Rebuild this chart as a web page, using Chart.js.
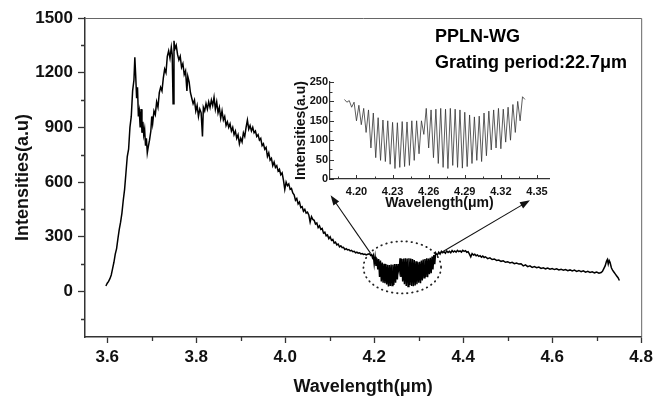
<!DOCTYPE html>
<html>
<head>
<meta charset="utf-8">
<script src="https://cdn.jsdelivr.net/npm/chart.js@4"></script>
<style>
  body { margin: 0; background: #fff; }
  #wrap { position: relative; width: 657px; height: 398px; }
  #main { position: absolute; left: 0; top: 0; }
  #inset { position: absolute; left: 280px; top: 70px; }
</style>
</head>
<body>
<div id="wrap">
  <canvas id="main" width="657" height="398"></canvas>
  <canvas id="inset" width="280" height="150"></canvas>
</div>
<script>
// spectrum, left of the fringe region
const leftWl = [
  3.597, 3.600, 3.603, 3.606, 3.609, 3.612, 3.615, 3.618, 3.621, 3.624,
  3.627, 3.630, 3.633, 3.636, 3.639, 3.642, 3.645, 3.648, 3.651, 3.654,
  3.657, 3.660, 3.662, 3.664, 3.666, 3.668, 3.670, 3.672, 3.674, 3.676,
  3.678, 3.680, 3.682, 3.684, 3.686, 3.688, 3.690, 3.692, 3.695, 3.698,
  3.700, 3.702, 3.705, 3.708, 3.711, 3.714, 3.717, 3.720, 3.723, 3.726,
  3.729, 3.732, 3.735, 3.738, 3.741, 3.744, 3.746, 3.748, 3.750, 3.752,
  3.755, 3.758, 3.761, 3.764, 3.767, 3.770, 3.773, 3.776, 3.779, 3.781,
  3.784, 3.787, 3.790, 3.793, 3.796, 3.799, 3.802, 3.805, 3.808, 3.811,
  3.814, 3.816, 3.819, 3.822, 3.825, 3.828, 3.831, 3.834, 3.837, 3.840,
  3.843, 3.846, 3.849, 3.852, 3.855, 3.858, 3.861, 3.864, 3.867, 3.870,
  3.873, 3.876, 3.879, 3.882, 3.885, 3.888, 3.891, 3.894, 3.897, 3.900,
  3.903, 3.906, 3.909, 3.912, 3.915, 3.918, 3.921, 3.924, 3.927, 3.930,
  3.933, 3.936, 3.939, 3.942, 3.945, 3.948, 3.951, 3.954, 3.957, 3.960,
  3.963, 3.966, 3.969, 3.972, 3.975, 3.978, 3.981, 3.984, 3.987, 3.990,
  3.993, 3.996, 3.999, 4.002, 4.005, 4.008, 4.011, 4.014, 4.017, 4.020,
  4.023, 4.026, 4.029, 4.032, 4.035, 4.038, 4.041, 4.044, 4.047, 4.050,
  4.053, 4.056, 4.059, 4.062, 4.065, 4.068, 4.071, 4.074, 4.077, 4.080,
  4.083, 4.086, 4.089, 4.092, 4.095, 4.098, 4.101, 4.104, 4.107, 4.110,
  4.113, 4.116, 4.119, 4.122, 4.125, 4.128, 4.131, 4.134, 4.137, 4.140,
  4.143, 4.146, 4.149, 4.152, 4.155, 4.158, 4.161, 4.164, 4.167, 4.170,
  4.173, 4.176, 4.179, 4.182, 4.185
];
const leftInt = [
  30, 45, 55, 70, 90, 125, 160, 205, 235, 290,
  340, 380, 430, 500, 560, 650, 740, 780, 900, 960,
  1100, 1160, 1285, 1180, 1060, 1120, 960, 990, 900, 1000,
  870, 930, 860, 890, 800, 840, 760, 790, 830, 880,
  960, 920, 990, 970, 1040, 1010, 1090, 1120, 1100, 1170,
  1220, 1200, 1290, 1320, 1280, 1340, 1300, 1030, 1375, 1330,
  1350, 1300, 1270, 1290, 1230, 1250, 1190, 1210, 1100, 1180,
  1150, 1090, 1060, 1030, 1050, 990, 1020, 960, 1000, 980,
  850, 1010, 990, 1030, 1000, 1040, 1010, 1050, 1020, 1065,
  1000, 1040, 980, 1010, 950, 990, 940, 960, 910, 930,
  900, 920, 880, 900, 860, 880, 840, 860, 810, 840,
  820, 870, 850, 900, 940, 890, 910, 880, 900, 870,
  880, 850, 860, 830, 840, 800, 810, 780, 790, 740,
  760, 720, 730, 690, 710, 680, 690, 660, 670, 640,
  650, 610, 560, 600, 580, 590, 560, 565, 540, 530,
  500, 510, 480, 490, 460, 465, 440, 450, 430, 435,
  420, 380, 410, 395, 390, 370, 375, 350, 360, 340,
  345, 320, 325, 305, 310, 290, 300, 280, 285, 265,
  270, 255, 260, 245, 250, 240, 242, 230, 235, 228,
  230, 222, 225, 218, 220, 212, 216, 210, 212, 206,
  208, 203, 205, 200, 204
];

// fringe region (shown in the inset)
const fringeWl = [
  4.190, 4.192, 4.194, 4.196, 4.198, 4.200, 4.202, 4.204, 4.206, 4.208,
  4.210, 4.212, 4.214, 4.216, 4.218, 4.220, 4.222, 4.224, 4.226, 4.228,
  4.230, 4.232, 4.234, 4.236, 4.238, 4.240, 4.242, 4.244, 4.246, 4.248,
  4.250, 4.252, 4.254, 4.256, 4.258, 4.260, 4.262, 4.264, 4.266, 4.268,
  4.270, 4.272, 4.274, 4.276, 4.278, 4.280, 4.282, 4.284, 4.286, 4.288,
  4.290, 4.292, 4.294, 4.296, 4.298, 4.300, 4.302, 4.304, 4.306, 4.308,
  4.310, 4.312, 4.314, 4.316, 4.318, 4.320, 4.322, 4.324, 4.326, 4.328,
  4.330, 4.332, 4.334, 4.336, 4.338, 4.340
];
const fringeInt = [
  205, 198, 202, 185, 198, 150, 190, 140, 182, 120,
  178, 80, 170, 55, 158, 48, 152, 45, 150, 38,
  146, 27, 145, 30, 148, 32, 147, 35, 150, 48,
  150, 65, 150, 115, 182, 80, 178, 55, 180, 40,
  182, 30, 180, 27, 182, 35, 180, 30, 178, 28,
  172, 32, 165, 40, 160, 48, 162, 45, 170, 60,
  175, 75, 178, 80, 182, 78, 180, 95, 185, 100,
  192, 120, 200, 150, 212, 205
];

// spectrum, right of the fringe region
const rightWl = [
  4.342, 4.345, 4.348, 4.351, 4.354, 4.357, 4.360, 4.363, 4.366, 4.369,
  4.372, 4.375, 4.378, 4.381, 4.384, 4.387, 4.390, 4.393, 4.396, 4.399,
  4.402, 4.405, 4.408, 4.411, 4.414, 4.417, 4.420, 4.423, 4.426, 4.429,
  4.432, 4.435, 4.438, 4.441, 4.444, 4.447, 4.450, 4.455, 4.460, 4.465,
  4.470, 4.475, 4.480, 4.485, 4.490, 4.495, 4.500, 4.505, 4.510, 4.515,
  4.520, 4.525, 4.530, 4.535, 4.540, 4.545, 4.550, 4.555, 4.560, 4.565,
  4.570, 4.575, 4.580, 4.585, 4.590, 4.595, 4.600, 4.605, 4.610, 4.615,
  4.620, 4.625, 4.630, 4.635, 4.640, 4.645, 4.650, 4.655, 4.660, 4.665,
  4.670, 4.675, 4.680, 4.685, 4.690, 4.695, 4.700, 4.705, 4.710, 4.713,
  4.716, 4.719, 4.722, 4.724, 4.726, 4.728, 4.730, 4.733, 4.736, 4.739,
  4.742, 4.745, 4.748, 4.751
];
const rightInt = [
  200, 215, 205, 220, 212, 218, 210, 222, 214, 220,
  212, 224, 216, 222, 215, 225, 218, 222, 216, 226,
  220, 224, 215, 218, 205, 190, 208, 200, 204, 196,
  200, 192, 196, 188, 194, 186, 190, 180, 184, 175,
  178, 170, 172, 165, 168, 160, 163, 156, 160, 152,
  156, 150, 152, 140, 146, 136, 140, 132, 136, 130,
  134, 126, 130, 124, 128, 122, 126, 120, 124, 118,
  122, 116, 120, 114, 118, 112, 117, 110, 115, 108,
  113, 106, 110, 104, 108, 102, 106, 100, 104, 110,
  125, 140, 165, 175, 150, 170, 160, 130, 115, 105,
  95, 85, 75, 60
];

const xTicks = [3.6, 3.8, 4.0, 4.2, 4.4, 4.6, 4.8];
const xMinor = [3.7, 3.9, 4.1, 4.3, 4.5, 4.7];
const yTicks = [0, 300, 600, 900, 1200, 1500];
const yMinor = [-150, 150, 450, 750, 1050, 1350];

const insetXTicks = [4.20, 4.23, 4.26, 4.29, 4.32, 4.35];
const insetXMinor = [4.185, 4.215, 4.245, 4.275, 4.305, 4.335];
const insetYTicks = [0, 50, 100, 150, 200, 250];
const insetYMinor = [25, 75, 125, 175, 225];

const FONT = "'Liberation Sans', Arial, sans-serif";
Chart.defaults.font.family = FONT;
Chart.defaults.color = '#111';

const toPts = (xs, ys) => xs.map((v, i) => ({ x: v, y: ys[i] }));
const mainPts = toPts(leftWl, leftInt)
  .concat(toPts(fringeWl, fringeInt))
  .concat(toPts(rightWl, rightInt));

function arrow(ctx, x1, y1, x2, y2) {
  const a = Math.atan2(y2 - y1, x2 - x1), L = 10, W = 3.5;
  const c = Math.cos(a), s = Math.sin(a);
  ctx.beginPath();
  ctx.moveTo(x1, y1);
  ctx.lineTo(x2 - L * 0.8 * c, y2 - L * 0.8 * s);
  ctx.stroke();
  ctx.beginPath();
  ctx.moveTo(x2, y2);
  ctx.lineTo(x2 - L * c + W * s, y2 - L * s - W * c);
  ctx.lineTo(x2 - L * c - W * s, y2 - L * s + W * c);
  ctx.closePath();
  ctx.fill();
}

// frame, minor ticks, dotted ellipse, arrows and labels
const mainExtras = {
  id: 'mainExtras',
  afterDraw(chart) {
    const { ctx, chartArea: a, scales: { x, y } } = chart;
    ctx.save();
    ctx.strokeStyle = '#666';
    ctx.lineWidth = 1;
    ctx.beginPath();
    ctx.moveTo(a.left, a.top + 0.5);
    ctx.lineTo(a.right + 0.5, a.top + 0.5);
    ctx.lineTo(a.right + 0.5, a.bottom);
    ctx.stroke();

    ctx.strokeStyle = '#333';
    ctx.lineWidth = 1.3;
    ctx.beginPath();
    xMinor.forEach(v => {
      const px = Math.round(x.getPixelForValue(v)) + 0.5;
      ctx.moveTo(px, a.bottom);
      ctx.lineTo(px, a.bottom + 4);
    });
    yMinor.forEach(v => {
      const py = Math.round(y.getPixelForValue(v)) + 0.5;
      ctx.moveTo(a.left, py);
      ctx.lineTo(a.left - 4, py);
    });
    ctx.stroke();

    // dotted ellipse round the fringe region
    const cx = x.getPixelForValue(4.263), cy = y.getPixelForValue(132);
    const rx = x.getPixelForValue(4.263 + 0.0872) - cx;
    const ry = cy - y.getPixelForValue(132 + 143);
    ctx.strokeStyle = '#222';
    ctx.lineWidth = 1.8;
    ctx.lineCap = 'round';
    ctx.setLineDash([0.5, 4.6]);
    ctx.beginPath();
    ctx.ellipse(cx, cy, rx, ry, 0, 0, Math.PI * 2);
    ctx.stroke();
    ctx.setLineDash([]);
    ctx.lineCap = 'butt';

    ctx.strokeStyle = '#111';
    ctx.fillStyle = '#111';
    ctx.lineWidth = 1.1;
    arrow(ctx, x.getPixelForValue(4.192), y.getPixelForValue(209),
               x.getPixelForValue(4.102), y.getPixelForValue(527));
    arrow(ctx, x.getPixelForValue(4.348), y.getPixelForValue(209),
               x.getPixelForValue(4.550), y.getPixelForValue(500));

    ctx.fillStyle = '#000';
    ctx.font = 'bold 18px ' + FONT;
    ctx.textBaseline = 'middle';
    ctx.textAlign = 'left';
    ctx.fillText('PPLN-WG', a.left + 350, a.top + 19);
    ctx.fillText('Grating period:22.7\u03bcm', a.left + 350, a.top + 45);
    ctx.restore();
  }
};

new Chart(document.getElementById('main'), {
  type: 'line',
  data: {
    datasets: [{
      data: mainPts,
      borderColor: '#000',
      borderWidth: 1.5,
      pointRadius: 0,
      tension: 0
    }]
  },
  options: {
    responsive: false,
    animation: false,
    devicePixelRatio: 1,
    layout: { padding: { top: 18, right: 13, left: 0, bottom: 0 } },
    plugins: { legend: { display: false }, tooltip: { enabled: false } },
    scales: {
      x: {
        type: 'linear',
        min: 3.55,
        max: 4.8,
        afterBuildTicks: s => { s.ticks = xTicks.map(v => ({ value: v })); },
        afterFit: s => { s.height = 61; },
        ticks: {
          callback: v => v.toFixed(1),
          font: { size: 17, weight: 'bold' },
          padding: 4,
          maxRotation: 0,
          autoSkip: false
        },
        grid: { drawOnChartArea: false, tickLength: 6, tickColor: '#333', tickWidth: 1.3 },
        border: { color: '#333', width: 1.5 },
        title: {
          display: true,
          text: 'Wavelength(\u03bcm)',
          font: { size: 18, weight: 'bold' },
          padding: { top: 0, bottom: 0 }
        }
      },
      y: {
        type: 'linear',
        min: -250,
        max: 1500,
        afterBuildTicks: s => { s.ticks = yTicks.map(v => ({ value: v })); },
        afterFit: s => { s.width = 85; },
        ticks: {
          callback: v => String(v),
          font: { size: 17, weight: 'bold' },
          padding: 5,
          autoSkip: false
        },
        grid: { drawOnChartArea: false, tickLength: 7, tickColor: '#333', tickWidth: 1.3 },
        border: { color: '#333', width: 1.5 },
        title: {
          display: true,
          text: 'Intensities(a.u)',
          font: { size: 18, weight: 'bold' },
          padding: { top: 12, bottom: 0 }
        }
      }
    }
  },
  plugins: [mainExtras]
});

// inward ticks for the inset
const insetTicks = {
  id: 'insetTicks',
  afterDraw(chart) {
    const { ctx, chartArea: a, scales: { x, y } } = chart;
    ctx.save();
    ctx.strokeStyle = '#333';
    ctx.lineWidth = 1;
    ctx.beginPath();
    insetXTicks.forEach(v => { const p = Math.round(x.getPixelForValue(v)) + 0.5; ctx.moveTo(p, a.bottom); ctx.lineTo(p, a.bottom - 4); });
    insetXMinor.forEach(v => { const p = Math.round(x.getPixelForValue(v)) + 0.5; ctx.moveTo(p, a.bottom); ctx.lineTo(p, a.bottom - 2.5); });
    insetYTicks.forEach(v => { const p = Math.round(y.getPixelForValue(v)) + 0.5; ctx.moveTo(a.left, p); ctx.lineTo(a.left + 4, p); });
    insetYMinor.forEach(v => { const p = Math.round(y.getPixelForValue(v)) + 0.5; ctx.moveTo(a.left, p); ctx.lineTo(a.left + 2.5, p); });
    ctx.stroke();
    ctx.restore();
  }
};

new Chart(document.getElementById('inset'), {
  type: 'line',
  data: {
    datasets: [{
      data: toPts(fringeWl, fringeInt),
      borderColor: '#333',
      borderWidth: 0.8,
      pointRadius: 0,
      tension: 0
    }]
  },
  options: {
    responsive: false,
    animation: false,
    devicePixelRatio: 1,
    layout: { padding: { top: 12, right: 11, left: 0, bottom: 0 } },
    plugins: { legend: { display: false }, tooltip: { enabled: false } },
    scales: {
      x: {
        type: 'linear',
        min: 4.178,
        max: 4.36,
        afterBuildTicks: s => { s.ticks = insetXTicks.map(v => ({ value: v })); },
        afterFit: s => { s.height = 41; },
        ticks: {
          callback: v => v.toFixed(2),
          font: { size: 11, weight: 'bold' },
          padding: 6,
          maxRotation: 0,
          autoSkip: false
        },
        grid: { display: false, drawTicks: false },
        border: { color: '#333', width: 1.2 },
        title: {
          display: true,
          text: 'Wavelength(\u03bcm)',
          font: { size: 14, weight: 'bold' },
          padding: { top: 0, bottom: 8 }
        }
      },
      y: {
        type: 'linear',
        min: 0,
        max: 250,
        afterBuildTicks: s => { s.ticks = insetYTicks.map(v => ({ value: v })); },
        afterFit: s => { s.width = 50; },
        ticks: {
          callback: v => String(v),
          font: { size: 11, weight: 'bold' },
          padding: 2,
          autoSkip: false
        },
        grid: { display: false, drawTicks: false },
        border: { color: '#333', width: 1.2 },
        title: {
          display: true,
          text: 'Intensities(a.u)',
          font: { size: 14, weight: 'bold' },
          padding: { top: 13, bottom: 0 }
        }
      }
    }
  },
  plugins: [insetTicks]
});
</script>
</body>
</html>
